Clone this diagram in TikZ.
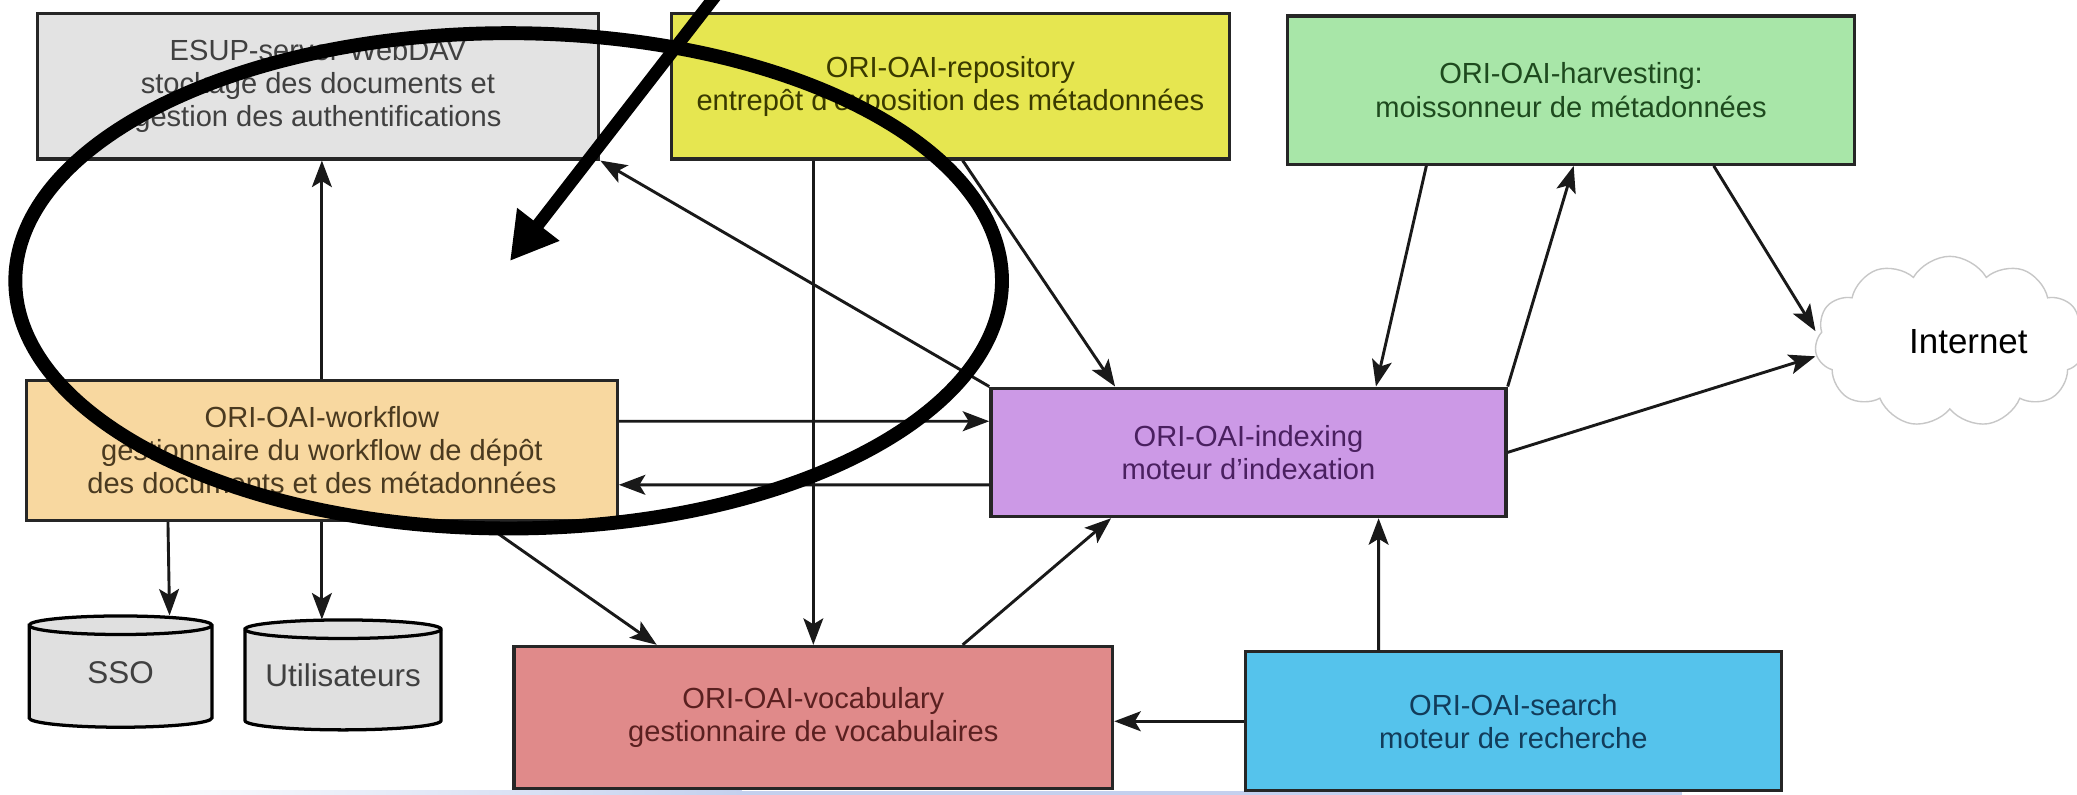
\documentclass[tikz,border=0pt]{standalone}
\usepackage{fontspec}
\setmainfont{Liberation Sans}
\usetikzlibrary{arrows.meta,shapes.symbols,calc}
\definecolor{fEsup}{HTML}{E3E3E3}
\definecolor{fRepo}{HTML}{E6E650}
\definecolor{fHarv}{HTML}{A8E6A8}
\definecolor{fWork}{HTML}{F8D8A0}
\definecolor{fIndex}{HTML}{CC99E6}
\definecolor{fVocab}{HTML}{E08A8A}
\definecolor{fSearch}{HTML}{55C3EC}
\definecolor{fCyl}{HTML}{E0E0E0}
\definecolor{tEsup}{HTML}{404040}
\definecolor{tRepo}{HTML}{3A3A00}
\definecolor{tHarv}{HTML}{1E4A1E}
\definecolor{tWork}{HTML}{4A3A20}
\definecolor{tIndex}{HTML}{4A2060}
\definecolor{tVocab}{HTML}{5A2020}
\definecolor{tSearch}{HTML}{123C5A}
\definecolor{strip}{HTML}{C4D0EE}
\begin{document}
\begin{tikzpicture}[x=0.02cm,y=-0.02cm,
  box/.style={draw=black!85, line width=1.4pt, rectangle, align=center, inner sep=0pt,
    font=\fontsize{12.5pt}{14.2pt}\selectfont},
  conn/.style={draw=black!90, line width=1.25pt, -{Stealth[length=0.4cm,width=0.3cm,inset=0.09cm]}},
  cyl/.style={draw=black, line width=1.4pt, fill=fCyl},
  cyltext/.style={inner sep=0pt, text=tEsup, font=\fontsize{13.5pt}{15pt}\selectfont},
]
\useasboundingbox (0,0) rectangle (1568,600);
\clip (0,0) rectangle (1568,600);
\fill[white] (0,0) rectangle (1568,600);
% faint strip at the bottom
\shade[left color=white, right color=strip] (100,597) rectangle (560,601);
\fill[strip] (560,597) rectangle (1270,601);

% boxes
\node[box, fill=fEsup, text=tEsup, minimum width=8.48cm, minimum height=2.2cm] (esup) at (240,65)
  {ESUP-server-WebDAV\\stockage des documents et\\gestion des authentifications};
\node[box, fill=fRepo, text=tRepo, minimum width=8.42cm, minimum height=2.2cm] (repo) at (717.5,65)
  {ORI-OAI-repository\\entrepôt d'exposition des métadonnées};
\node[box, fill=fHarv, text=tHarv, minimum width=8.56cm, minimum height=2.24cm] (harv) at (1186,68)
  {ORI-OAI-harvesting:\\moissonneur de métadonnées};
\node[box, fill=fWork, text=tWork, minimum width=8.92cm, minimum height=2.12cm] (work) at (243,340)
  {ORI-OAI-workflow\\gestionnaire du workflow de dépôt\\des documents et des métadonnées};
\node[box, fill=fIndex, text=tIndex, minimum width=7.78cm, minimum height=1.94cm] (index) at (942.5,341.5)
  {ORI-OAI-indexing\\moteur d'indexation};
\node[box, fill=fVocab, text=tVocab, minimum width=9.04cm, minimum height=2.14cm] (vocab) at (614,541.5)
  {ORI-OAI-vocabulary\\gestionnaire de vocabulaires};
\node[box, fill=fSearch, text=tSearch, minimum width=8.1cm, minimum height=2.1cm] (search) at (1142.5,544.5)
  {ORI-OAI-search\\moteur de recherche};

% cylinders
\filldraw[cyl] (22,472) -- (22,542) arc[start angle=180, end angle=360, x radius=1.38cm, y radius=0.14cm]
  -- (160,472) arc[start angle=0, end angle=180, x radius=1.38cm, y radius=0.14cm] -- cycle;
\draw[cyl, fill=none] (22,472) arc[start angle=180, end angle=360, x radius=1.38cm, y radius=0.14cm];
\node[cyltext, minimum width=2.76cm, minimum height=1.7cm] (sso) at (91,507.5) {SSO};

\filldraw[cyl] (185,475) -- (185,544) arc[start angle=180, end angle=360, x radius=1.48cm, y radius=0.14cm]
  -- (333,475) arc[start angle=0, end angle=180, x radius=1.48cm, y radius=0.14cm] -- cycle;
\draw[cyl, fill=none] (185,475) arc[start angle=180, end angle=360, x radius=1.48cm, y radius=0.14cm];
\node[cyltext, minimum width=2.96cm, minimum height=1.68cm] (util) at (259,510) {Utilisateurs};

% cloud
\node[cloud, cloud puffs=11, cloud puff arc=120, aspect=1.6, draw=black!22, line width=0.6pt, fill=white,
  minimum width=4.08cm, minimum height=2.58cm, inner sep=0pt] (net) at (1472,258) {};
\node[inner sep=0pt, font=\fontsize{15pt}{17pt}\selectfont] (nettxt) at (1486,258) {Internet};

% connectors
\draw[conn] (work.north) -- (work.north |- esup.south);
\draw[conn] (index.north west) -- (esup.south east);
\draw[conn] (vocab.north |- repo.south) -- (vocab.north);
\draw[conn] ([xshift=4.42cm]repo.south west) -- ([xshift=1.9cm]index.north west);
\draw[conn] ([yshift=0.44cm]work.east) -- ([yshift=0.47cm]index.west);
\draw[conn] ([yshift=-0.49cm]index.west) -- ([yshift=-0.52cm]work.east);
\draw[conn] ([xshift=6.9cm]work.south west) -- ([xshift=2.18cm]vocab.north west);
\draw[conn] ([xshift=6.8cm]vocab.north west) -- ([xshift=1.84cm]index.south west);
\draw[conn] ([xshift=2.16cm]work.south west) -- ([xshift=0.74cm]sso.north);
\draw[conn] (work.south) -- (work.south |- util.north);
\draw[conn] (search.west) -- (search.west -| vocab.east);
\draw[conn] ([xshift=2.04cm]search.north west) -- ([xshift=5.88cm]index.south west);
\draw[conn] ([xshift=2.12cm]harv.south west) -- ([xshift=5.84cm]index.north west);
\draw[conn] (index.north east) -- ([xshift=0.04cm]harv.south);
\draw[conn] ([xshift=6.46cm]harv.south west) -- ([yshift=0.16cm]net.west);
\draw[conn] (index.east) -- ([yshift=-0.22cm]net.west);

% hand-drawn annotation: ellipse and big arrow
\coordinate (bigtail) at (547,-12);
\coordinate (bigtip) at (385,197);
\draw[line width=0.21cm] (384,212) ellipse [x radius=7.45cm, y radius=3.74cm];
\draw[line width=0.19cm, -{Triangle[length=0.7cm,width=0.76cm]}] (bigtail) -- (bigtip);
\end{tikzpicture}
\end{document}
